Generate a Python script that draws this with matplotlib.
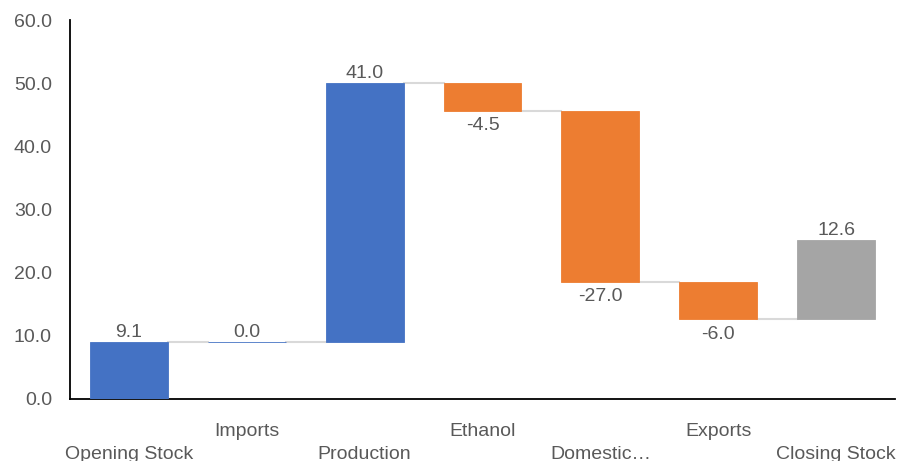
import numpy as np
import matplotlib
matplotlib.use('Agg')
import matplotlib.pyplot as plt

plt.rcParams['font.family'] = ['Liberation Sans', 'DejaVu Sans']

# Data
categories = ['Opening Stock', 'Imports', 'Production', 'Ethanol', 'Domestic\u2026', 'Exports', 'Closing Stock']
values = [9.1, 0.0, 41.0, -4.5, -27.0, -6.0, 12.6]
bar_colors = ['#4472C4', '#4472C4', '#4472C4', '#ED7D31', '#ED7D31', '#ED7D31', '#A5A5A5']

text_col = '#595959'
vals = np.array(values)
ends = np.cumsum(vals)
starts = ends - vals
x = np.arange(len(categories))
width = 0.66
fs = 14

fig = plt.figure(figsize=(9.07, 4.61), dpi=100)
ax = fig.add_axes([0.0772, 0.1345, 0.9096, 0.8221])

ax.bar(x, vals, bottom=starts, width=width, color=bar_colors, edgecolor=bar_colors, linewidth=0.6, zorder=3)

# connectors between bars
for i in range(len(x) - 1):
    ax.plot([x[i] + width / 2, x[i + 1] - width / 2], [ends[i], ends[i]], color='#D9D9D9', lw=1.5, zorder=2)

# value labels
for i, v in enumerate(vals):
    if v >= 0:
        ax.annotate(f'{v:.1f}', (x[i], max(starts[i], ends[i])), xytext=(0, 0.5), textcoords='offset points',
                    ha='center', va='bottom', fontsize=fs, color=text_col)
    else:
        ax.annotate(f'{v:.1f}', (x[i], min(starts[i], ends[i])), xytext=(0, -4.5), textcoords='offset points',
                    ha='center', va='top', fontsize=fs, color=text_col)

ax.set_xlim(-0.5, len(categories) - 0.5)
ax.set_ylim(0, 60)
ax.set_yticks(np.arange(0, 61, 10))
ax.set_yticklabels([f'{t:.1f}' for t in np.arange(0, 61, 10)])
ax.set_xticks(x)
ax.set_xticklabels(categories)
ax.tick_params(axis='both', length=0, labelsize=fs, labelcolor=text_col)
ax.tick_params(axis='y', pad=13)
for i, t in enumerate(ax.xaxis.get_major_ticks()):
    t.set_pad(17 if i % 2 else 34)

for s in ['top', 'right']:
    ax.spines[s].set_visible(False)
for s in ['left', 'bottom']:
    ax.spines[s].set_color('black')
    ax.spines[s].set_linewidth(1.3)

fig.savefig('out.png', dpi=100)
